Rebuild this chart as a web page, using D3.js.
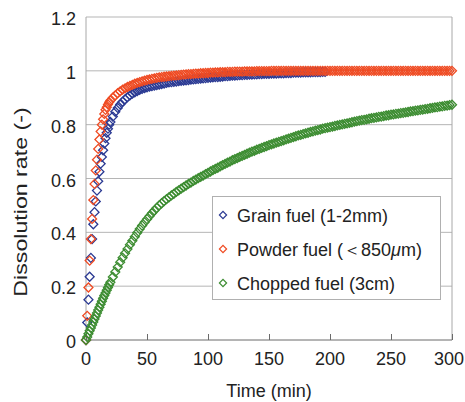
<!DOCTYPE html>
<html>
<head>
<meta charset="utf-8">
<script src="https://cdn.jsdelivr.net/npm/d3@7"></script>
<style>
  body { margin: 0; background: #fff; }
  text { font-family: "Liberation Sans", Arial, sans-serif; fill: #222; }
</style>
</head>
<body>
<svg id="chart" width="465" height="402"></svg>
<script>
// sampling times (min)
const minutes = [0,1,2,3,4,5,6,7,8,9,10,11,12,13,14,15,16,17,18,19,20,
  22,24,26,28,30,32,34,36,38,40,42,44,46,48,50,52,54,56,58,60,62,64,66,68,70,
  72,74,76,78,80,82,84,86,88,90,92,94,96,98,100,
  102,104,106,108,110,112,114,116,118,120,122,124,126,128,130,132,134,136,138,140,
  142,144,146,148,150,152,154,156,158,160,162,164,166,168,170,172,174,176,178,180,
  182,184,186,188,190,192,194,196,198,200,202,204,206,208,210,212,214,216,218,220,
  222,224,226,228,230,232,234,236,238,240,242,244,246,248,250,252,254,256,258,260,
  262,264,266,268,270,272,274,276,278,280,282,284,286,288,290,292,294,296,298,300];

// grain fuel, ends at 196 min
const grainRate = [0,0.065,0.15,0.235,0.305,0.375,0.43,0.475,0.515,0.555,0.59,0.625,0.655,0.68,0.705,0.73,0.75,0.77,0.785,0.8,0.81,
  0.83,0.848,0.862,0.875,0.885,0.894,0.902,0.909,0.915,0.92,0.925,0.929,0.933,0.936,0.939,0.941,0.943,0.945,0.947,0.949,0.951,0.953,0.955,0.957,0.958,
  0.959,0.96,0.962,0.963,0.964,0.965,0.966,0.967,0.968,0.969,0.97,0.971,0.972,0.973,0.974,
  0.975,0.976,0.977,0.977,0.978,0.979,0.98,0.98,0.981,0.982,0.982,0.983,0.984,0.984,0.985,0.985,0.986,0.986,0.987,0.987,
  0.988,0.988,0.989,0.989,0.989,0.99,0.99,0.99,0.991,0.991,0.991,0.992,0.992,0.992,0.993,0.993,0.993,0.993,0.994,0.994,
  0.994,0.994,0.995,0.995,0.995,0.995,0.996,0.996];

const powderRate = [0,0.09,0.195,0.295,0.375,0.45,0.52,0.58,0.63,0.67,0.71,0.745,0.775,0.8,0.82,0.84,0.855,0.865,0.875,0.883,0.89,
  0.9,0.909,0.917,0.924,0.93,0.935,0.94,0.944,0.948,0.952,0.955,0.958,0.961,0.964,0.966,0.968,0.97,0.972,0.974,0.976,0.977,0.978,0.979,0.98,0.981,
  0.982,0.983,0.984,0.985,0.986,0.987,0.988,0.988,0.989,0.99,0.99,0.991,0.991,0.992,0.992,
  0.993,0.993,0.994,0.994,0.995,0.995,0.995,0.996,0.996,0.996,0.997,0.997,0.997,0.997,0.998,0.998,0.998,0.998,0.998,0.999,
  0.999,0.999,0.999,0.999,0.999,1,1,1,1,1,1,1,1,1,1,1,1,1,1,1,
  1,1,1,1,1,1,1,1,1,1,1,1,1,1,1,1,1,1,1,1,
  1,1,1,1,1,1,1,1,1,1,1,1,1,1,1,1,1,1,1,1,
  1,1,1,1,1,1,1,1,1,1,1,1,1,1,1,1,1,1,1,1];

const choppedRate = [0,0.011,0.023,0.034,0.045,0.056,0.067,0.078,0.089,0.1,0.111,0.122,0.133,0.144,0.155,0.165,0.175,0.185,0.195,0.205,0.215,
  0.234,0.253,0.271,0.289,0.306,0.322,0.338,0.354,0.369,0.384,0.398,0.412,0.425,0.437,0.449,0.46,0.471,0.481,0.491,0.5,0.508,0.516,0.523,0.53,0.537,
  0.543,0.55,0.556,0.562,0.568,0.574,0.58,0.585,0.591,0.596,0.601,0.606,0.611,0.616,0.621,
  0.626,0.631,0.636,0.64,0.645,0.65,0.654,0.659,0.663,0.668,0.672,0.676,0.68,0.684,0.688,0.692,0.696,0.7,0.703,0.707,
  0.71,0.714,0.717,0.72,0.724,0.727,0.73,0.733,0.736,0.739,0.742,0.745,0.748,0.751,0.754,0.757,0.76,0.762,0.765,0.768,
  0.77,0.773,0.775,0.778,0.78,0.782,0.785,0.787,0.789,0.791,0.793,0.795,0.797,0.799,0.801,0.803,0.805,0.807,0.809,0.811,
  0.813,0.815,0.817,0.818,0.82,0.822,0.824,0.825,0.827,0.829,0.83,0.832,0.834,0.835,0.837,0.838,0.84,0.841,0.843,0.844,
  0.846,0.847,0.849,0.85,0.852,0.853,0.855,0.856,0.858,0.859,0.861,0.862,0.864,0.865,0.867,0.868,0.87,0.871,0.873,0.874];

const seriesNames = ["Grain fuel (1-2mm)", "Powder fuel (＜850", "Chopped fuel (3cm)"];
const seriesColors = ["#2b3a93", "#ef4b23", "#3d8d32"];
const xTicks = [0, 50, 100, 150, 200, 250, 300];
const yTicks = [0, 0.2, 0.4, 0.6, 0.8, 1, 1.2];

const svg = d3.select("#chart");
const margin = { top: 17, right: 13, bottom: 62, left: 86 };
const width = 465, height = 402;

const x = d3.scaleLinear().domain([0, 300]).range([margin.left, width - margin.right]);
const y = d3.scaleLinear().domain([0, 1.2]).range([height - margin.bottom, margin.top]);

// grid lines
svg.append("g")
  .selectAll("line")
  .data(yTicks.filter(d => d > 0))
  .join("line")
    .attr("x1", x(0)).attr("x2", x(300))
    .attr("y1", d => y(d)).attr("y2", d => y(d))
    .attr("stroke", "#b5b5b5")
    .attr("stroke-width", 1);

// frame
svg.append("line")
  .attr("x1", x(0)).attr("x2", x(0)).attr("y1", y(0)).attr("y2", y(1.2))
  .attr("stroke", "#a8a8a8");
svg.append("line")
  .attr("x1", x(300)).attr("x2", x(300)).attr("y1", y(0)).attr("y2", y(1.2))
  .attr("stroke", "#a8a8a8");

// x axis
const xAxis = svg.append("g")
  .attr("transform", `translate(0,${y(0)})`)
  .call(d3.axisTop(x).tickValues(xTicks).tickSize(6).tickFormat(""));
xAxis.select(".domain").attr("stroke", "#6a6a6a").attr("d", `M${x(0)},0H${x(300)}`);
xAxis.selectAll(".tick line").attr("stroke", "#6a6a6a");

svg.append("g")
  .selectAll("text")
  .data(xTicks)
  .join("text")
    .attr("x", d => d === 300 ? width - 1 : x(d))
    .attr("y", y(0) + 25)
    .attr("text-anchor", d => d === 300 ? "end" : "middle")
    .style("font-size", "18px")
    .text(d => d);

svg.append("g")
  .selectAll("text")
  .data(yTicks)
  .join("text")
    .attr("x", x(0) - 10)
    .attr("y", d => y(d) + 8)
    .attr("text-anchor", "end")
    .style("font-size", "18px")
    .text(d => d);

// axis titles
svg.append("text")
  .attr("x", (x(0) + x(300)) / 2)
  .attr("y", 397)
  .attr("text-anchor", "middle")
  .style("font-size", "18px")
  .text("Time (min)");

svg.append("text")
  .attr("transform", `translate(27,202) rotate(-90) scale(1.22,1)`)
  .attr("text-anchor", "middle")
  .style("font-size", "19px")
  .text("Dissolution rate (-)");

// markers
const diamond = d3.symbol().type(d3.symbolSquare).size(40);
const series = [
  { name: seriesNames[0], color: seriesColors[0], values: grainRate },
  { name: seriesNames[1], color: seriesColors[1], values: powderRate },
  { name: seriesNames[2], color: seriesColors[2], values: choppedRate }
];

series.forEach(s => {
  svg.append("g")
    .selectAll("path")
    .data(s.values.map((v, i) => [minutes[i], v]))
    .join("path")
      .attr("d", diamond)
      .attr("transform", d => `translate(${x(d[0])},${y(d[1])}) rotate(45)`)
      .attr("fill", "none")
      .attr("stroke", s.color)
      .attr("stroke-width", 1.3);
});

// legend
const legend = svg.append("g");
legend.append("rect")
  .attr("x", 212.5).attr("y", 196.5)
  .attr("width", 228).attr("height", 103)
  .attr("fill", "#fff")
  .attr("stroke", "#b0b0b0");

const legendMark = d3.symbol().type(d3.symbolSquare).size(26);
const rows = legend.selectAll(".row")
  .data(series)
  .join("g")
    .attr("class", "row")
    .attr("transform", (d, i) => `translate(223,${215 + i * 34})`);

rows.append("path")
  .attr("d", legendMark)
  .attr("transform", "rotate(45)")
  .attr("fill", "none")
  .attr("stroke", d => d.color)
  .attr("stroke-width", 1.2);

const labels = rows.append("text")
  .attr("x", 14)
  .attr("y", 7)
  .style("font-size", "18px")
  .text(d => d.name);

labels.filter((d, i) => i === 1).each(function() {
  const t = d3.select(this);
  t.append("tspan").style("font-style", "italic").text("μ");
  t.append("tspan").text("m)");
});
</script>
</body>
</html>
